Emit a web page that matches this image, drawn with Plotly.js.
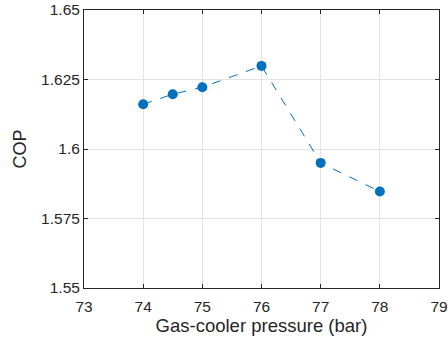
<!DOCTYPE html>
<html>
<head>
<meta charset="utf-8">
<script src="https://cdn.plot.ly/plotly-3.0.1.min.js"></script>
<style>html,body{margin:0;padding:0;background:#fff}#chart{width:448px;height:344px}</style>
</head>
<body>
<div id="chart"></div>
<script>
var pressure = [74, 74.5, 75, 76, 77, 78];
var cop = [1.6161, 1.6197, 1.6222, 1.6299, 1.595, 1.5847];
var xTicks = [73, 74, 75, 76, 77, 78, 79];
var yTicks = [1.55, 1.575, 1.6, 1.625, 1.65];
var yTickText = ['1.55', '1.575', '1.6', '1.625', '1.65'];

var font = 'Liberation Sans, Arial, Helvetica, sans-serif';
var trace = {
  x: pressure, y: cop, type: 'scatter', mode: 'lines+markers',
  line: {color: '#0072BD', width: 1, dash: 'dash'},
  marker: {color: '#0072BD', size: 10}
};
var axisCommon = {
  showline: true, linecolor: '#262626', linewidth: 1, mirror: 'ticks',
  ticks: 'inside', ticklen: 4, tickcolor: '#262626',
  showgrid: true, gridcolor: '#e3e3e3', gridwidth: 1, zeroline: false,
  tickfont: {family: font, size: 15.5, color: '#262626'}
};
var layout = {
  width: 448, height: 344,
  margin: {l: 83.5, r: 9, t: 10, b: 56},
  paper_bgcolor: '#fff', plot_bgcolor: '#fff',
  showlegend: false,
  xaxis: Object.assign({}, axisCommon, {
    range: [73, 79], tickvals: xTicks, ticktext: xTicks.map(String),
    ticklabelstandoff: 4,
    title: {text: 'Gas-cooler pressure (bar)', font: {family: font, size: 18.5, color: '#262626'}, standoff: 3}
  }),
  yaxis: Object.assign({}, axisCommon, {
    range: [1.55, 1.65], tickvals: yTicks, ticktext: yTickText,
    title: {text: 'COP', font: {family: font, size: 18, color: '#262626'}, standoff: 9}
  })
};
Plotly.newPlot('chart', [trace], layout, {staticPlot: true, displayModeBar: false});
</script>
</body>
</html>
